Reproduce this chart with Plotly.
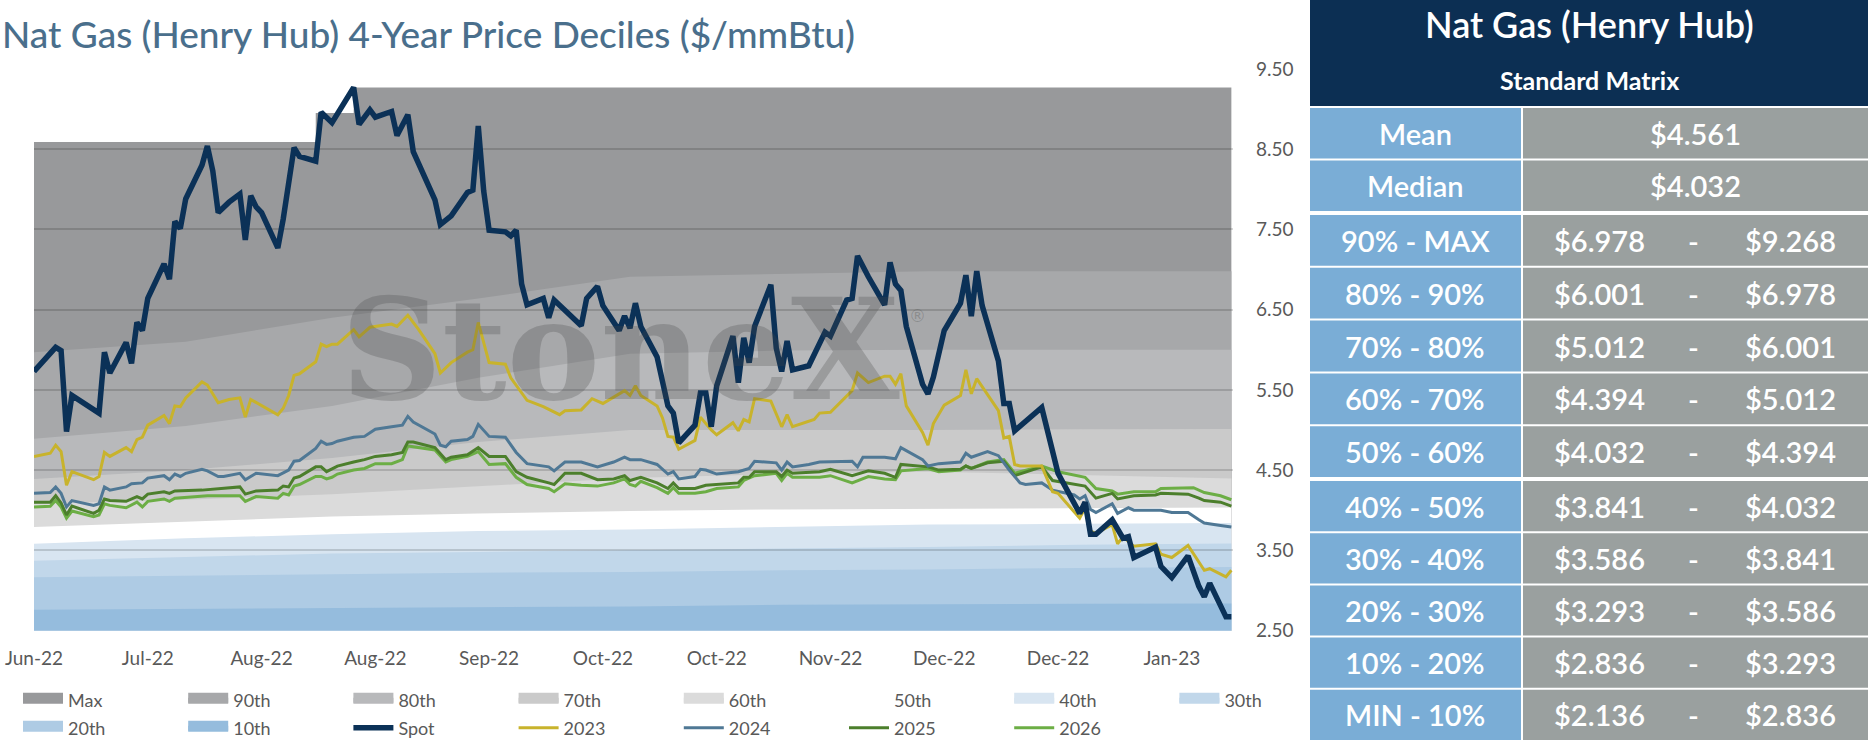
import pandas as pd
import plotly.graph_objects as go

# --- Canvas / layout constants ---
W, H = 1868, 740
FONT = "Lato"
START = pd.Timestamp("2022-06-20")  # first date on the chart (Jun-22 tick)

# plot area in pixels: left, right, top (9.50), bottom (2.50)
PX_L, PX_R, PX_T, PX_B = 34, 1233, 69, 630.5


def px_x(px):
    return px / W


def px_y(px):
    return 1 - px / H


def to_dates(days):
    return START + pd.to_timedelta(days, unit="D")


# --- Spot Henry Hub, day offsets from START and $/mmBtu ---
spot_day = [0, 4, 5, 6, 7, 12, 13, 14, 17, 18, 19, 20, 21, 24, 25, 26, 27, 28, 31, 32,
            33, 34, 36, 38, 39, 40, 41, 42, 45, 46, 48, 49, 52, 53, 55, 59, 60, 62, 63, 66,
            67, 69, 70, 74, 75, 77, 80, 81, 82, 83, 84, 87, 88, 89, 90, 91, 94, 95, 96, 101,
            102, 104, 105, 108, 109, 110, 111, 112, 115, 117, 118, 119, 122, 123, 124, 125, 126, 129, 130, 131,
            132, 133, 136, 137, 138, 139, 140, 143, 146, 147, 150, 151, 152, 154, 157, 158, 159, 160, 161, 164,
            165, 166, 168, 171, 172, 173, 174, 175, 178, 179, 180, 181, 186, 188, 189, 193, 194, 195, 196, 199,
            201, 202, 203, 207, 208, 210, 213, 215, 216, 217, 220, 221]
spot_val = [5.73, 6.03, 5.99, 4.98, 5.43, 5.21, 5.97, 5.71, 6.09, 5.83, 6.34, 6.24, 6.64, 7.07, 6.88, 7.60, 7.51, 7.88, 8.30, 8.54,
            8.23, 7.71, 7.84, 7.94, 7.37, 7.92, 7.78, 7.71, 7.27, 7.63, 8.52, 8.41, 8.35, 8.96, 8.83, 9.27, 8.81, 8.99, 8.90, 8.97,
            8.67, 8.93, 8.47, 7.87, 7.56, 7.67, 7.96, 7.99, 8.79, 7.98, 7.49, 7.47, 7.42, 7.49, 6.82, 6.56, 6.64, 6.40, 6.62, 6.30,
            6.64, 6.79, 6.55, 6.24, 6.42, 6.27, 6.58, 6.29, 5.91, 5.30, 5.21, 4.84, 5.06, 5.46, 5.46, 5.04, 5.55, 6.17, 5.59, 6.15,
            5.84, 6.29, 6.81, 6.02, 5.73, 6.11, 5.75, 5.80, 6.22, 6.17, 6.62, 6.64, 7.17, 6.91, 6.56, 7.09, 6.82, 6.74, 6.29, 5.57,
            5.45, 5.66, 6.24, 6.58, 6.93, 6.42, 6.98, 6.55, 5.86, 5.33, 5.33, 4.99, 5.28, 4.70, 4.46, 3.96, 4.10, 3.70, 3.70, 3.88,
            3.65, 3.67, 3.41, 3.54, 3.30, 3.16, 3.43, 3.05, 2.92, 3.09, 2.67, 2.67]

# --- Calendar strips ---
cal23_day = [0, 3, 4, 5, 6, 7, 11, 12, 13, 14, 17, 18, 19, 20, 21, 24, 25, 26, 27, 28,
             31, 32, 34, 36, 38, 39, 40, 45, 46, 47, 48, 49, 52, 53, 54, 55, 56, 59, 60, 62,
             66, 67, 69, 71, 74, 75, 77, 80, 81, 82, 84, 87, 88, 91, 94, 97, 98, 101, 103, 105,
             108, 109, 110, 111, 112, 115, 116, 117, 118, 119, 122, 123, 125, 126, 129, 130, 131, 132, 133, 136,
             138, 139, 140, 144, 145, 147, 151, 152, 154, 157, 158, 159, 160, 161, 164, 165, 166, 168, 171, 172,
             173, 174, 178, 179, 180, 181, 182, 186, 188, 189, 193, 194, 195, 196, 199, 200, 201, 203, 207, 208,
             210, 213, 216, 217, 220, 221]
cal23_val = [4.67, 4.71, 4.81, 4.73, 4.31, 4.48, 4.38, 4.42, 4.72, 4.67, 4.78, 4.73, 4.88, 4.91, 5.06, 5.18, 5.08, 5.30, 5.29, 5.40,
             5.60, 5.56, 5.34, 5.38, 5.40, 5.16, 5.38, 5.19, 5.27, 5.43, 5.68, 5.70, 5.85, 6.07, 6.04, 6.07, 6.07, 6.25, 6.16, 6.28,
             6.32, 6.29, 6.43, 6.25, 5.95, 5.71, 5.84, 5.97, 6.00, 6.34, 5.84, 5.82, 5.65, 5.37, 5.29, 5.19, 5.24, 5.25, 5.39, 5.33,
             5.45, 5.49, 5.43, 5.55, 5.43, 5.30, 5.15, 4.92, 4.91, 4.76, 4.87, 5.16, 5.00, 4.94, 5.09, 4.99, 5.13, 5.10, 5.39, 5.36,
             5.04, 5.19, 5.04, 5.13, 5.21, 5.22, 5.49, 5.71, 5.59, 5.67, 5.67, 5.57, 5.70, 5.30, 4.97, 4.81, 5.08, 5.31, 5.43, 5.75,
             5.45, 5.64, 5.24, 4.90, 4.92, 4.57, 4.55, 4.55, 4.23, 4.21, 3.90, 4.03, 3.74, 3.71, 3.82, 3.58, 3.67, 3.55, 3.58, 3.45,
             3.41, 3.56, 3.25, 3.27, 3.17, 3.25]

cal24_day = [0, 3, 4, 5, 6, 7, 11, 12, 13, 14, 17, 18, 20, 21, 24, 25, 26, 27, 28, 31,
             32, 34, 35, 38, 39, 41, 45, 47, 48, 49, 52, 53, 54, 55, 56, 59, 61, 63, 66, 68,
             69, 70, 74, 75, 76, 77, 80, 81, 82, 84, 87, 89, 91, 95, 96, 98, 101, 104, 107, 109,
             110, 112, 115, 117, 118, 119, 122, 123, 124, 126, 130, 132, 133, 137, 138, 139, 140, 143, 145, 151,
             152, 153, 157, 159, 160, 162, 164, 165, 167, 171, 172, 173, 176, 178, 180, 182, 183, 186, 188, 192,
             193, 194, 195, 196, 199, 200, 202, 203, 208, 210, 213, 215, 216, 219, 221]
cal24_val = [4.21, 4.22, 4.29, 4.21, 4.04, 4.12, 4.06, 4.08, 4.29, 4.25, 4.29, 4.33, 4.34, 4.40, 4.43, 4.38, 4.45, 4.42, 4.46, 4.51,
             4.49, 4.42, 4.42, 4.46, 4.38, 4.46, 4.43, 4.50, 4.61, 4.62, 4.77, 4.86, 4.82, 4.83, 4.86, 4.91, 4.92, 5.01, 5.04, 5.06,
             5.17, 5.10, 4.95, 4.81, 4.79, 4.86, 4.88, 4.92, 5.07, 4.92, 4.91, 4.72, 4.58, 4.54, 4.49, 4.60, 4.60, 4.54, 4.60, 4.66,
             4.63, 4.63, 4.57, 4.45, 4.48, 4.39, 4.42, 4.51, 4.50, 4.45, 4.48, 4.52, 4.61, 4.59, 4.50, 4.60, 4.54, 4.57, 4.60, 4.61,
             4.54, 4.66, 4.66, 4.64, 4.78, 4.70, 4.63, 4.55, 4.58, 4.60, 4.71, 4.66, 4.73, 4.68, 4.50, 4.34, 4.32, 4.34, 4.25, 4.19,
             4.14, 4.18, 4.01, 3.97, 4.08, 3.96, 4.03, 4.00, 4.00, 3.97, 3.97, 3.88, 3.84, 3.81, 3.79]

cal25_day = [0, 3, 4, 5, 6, 7, 11, 12, 13, 14, 17, 19, 20, 21, 24, 25, 26, 31, 38, 39,
             41, 45, 46, 47, 48, 49, 52, 53, 54, 55, 56, 59, 61, 63, 66, 68, 69, 70, 74, 76,
             77, 80, 82, 84, 87, 89, 91, 95, 96, 98, 101, 104, 107, 109, 110, 112, 115, 117, 118, 119,
             122, 124, 126, 130, 131, 132, 133, 137, 138, 139, 140, 145, 147, 151, 154, 157, 159, 160, 165, 167,
             171, 172, 173, 176, 179, 181, 186, 188, 194, 196, 199, 200, 203, 207, 208, 213, 215, 216, 219, 221]
cal25_val = [4.10, 4.10, 4.18, 4.09, 3.94, 4.05, 3.96, 4.00, 4.14, 4.12, 4.11, 4.17, 4.14, 4.20, 4.23, 4.21, 4.24, 4.25, 4.29, 4.20,
             4.24, 4.25, 4.30, 4.29, 4.40, 4.42, 4.54, 4.54, 4.48, 4.52, 4.55, 4.60, 4.63, 4.67, 4.69, 4.72, 4.85, 4.85, 4.78, 4.63,
             4.66, 4.69, 4.78, 4.67, 4.67, 4.48, 4.41, 4.34, 4.32, 4.46, 4.46, 4.38, 4.39, 4.43, 4.37, 4.41, 4.34, 4.27, 4.34, 4.27,
             4.27, 4.31, 4.32, 4.34, 4.41, 4.41, 4.48, 4.48, 4.42, 4.50, 4.46, 4.48, 4.51, 4.43, 4.49, 4.46, 4.41, 4.57, 4.54, 4.50,
             4.51, 4.55, 4.52, 4.59, 4.61, 4.43, 4.54, 4.37, 4.30, 4.15, 4.21, 4.14, 4.18, 4.19, 4.21, 4.20, 4.15, 4.12, 4.10, 4.05]

cal26_day = [0, 3, 4, 5, 6, 7, 11, 12, 13, 14, 17, 19, 20, 21, 24, 25, 26, 31, 32, 38,
             39, 41, 45, 46, 47, 48, 49, 52, 53, 54, 55, 56, 59, 61, 63, 66, 68, 69, 74, 76,
             77, 80, 82, 84, 87, 89, 91, 95, 96, 98, 101, 104, 107, 109, 110, 111, 112, 115, 117, 118,
             119, 122, 124, 126, 130, 131, 133, 137, 138, 139, 140, 145, 147, 151, 154, 157, 159, 160, 165, 167,
             171, 172, 173, 176, 179, 181, 186, 189, 194, 196, 199, 200, 203, 207, 208, 214, 216, 219, 221]
cal26_val = [4.04, 4.05, 4.12, 4.04, 3.90, 3.99, 3.92, 3.94, 4.08, 4.06, 4.03, 4.10, 4.04, 4.11, 4.14, 4.11, 4.15, 4.17, 4.18, 4.18,
             4.11, 4.17, 4.15, 4.21, 4.19, 4.30, 4.32, 4.42, 4.42, 4.39, 4.41, 4.45, 4.50, 4.52, 4.58, 4.58, 4.63, 4.80, 4.75, 4.60,
             4.63, 4.67, 4.73, 4.57, 4.58, 4.41, 4.32, 4.27, 4.23, 4.33, 4.31, 4.30, 4.34, 4.39, 4.32, 4.30, 4.36, 4.28, 4.21, 4.28,
             4.21, 4.21, 4.23, 4.27, 4.29, 4.37, 4.43, 4.46, 4.37, 4.46, 4.41, 4.41, 4.43, 4.34, 4.42, 4.39, 4.38, 4.49, 4.52, 4.48,
             4.50, 4.55, 4.52, 4.60, 4.63, 4.46, 4.55, 4.48, 4.41, 4.27, 4.24, 4.20, 4.23, 4.23, 4.27, 4.28, 4.22, 4.18, 4.13]

# --- 4-year decile bands ---
max_day = [0, 52, 59, 221]
max_val = [8.59, 8.95, 9.27, 9.268]
band_day = [0, 28, 55, 82, 110, 138, 165, 193, 221]
p90 = [5.97, 6.10, 6.40, 6.64, 6.91, 6.95, 6.98, 6.98, 6.978]
p80 = [4.89, 5.05, 5.30, 5.65, 5.95, 5.99, 6.00, 6.00, 6.001]
p70 = [4.39, 4.50, 4.65, 4.85, 5.00, 5.00, 5.00, 5.01, 5.012]
p60 = [4.08, 4.13, 4.20, 4.30, 4.40, 4.45, 4.48, 4.44, 4.394]
p50 = [3.79, 3.86, 3.92, 3.96, 3.99, 4.01, 4.02, 4.03, 4.032]
p40 = [3.58, 3.65, 3.70, 3.74, 3.76, 3.79, 3.82, 3.83, 3.841]
p30 = [3.37, 3.42, 3.46, 3.48, 3.50, 3.52, 3.54, 3.57, 3.586]
p20 = [3.165, 3.18, 3.20, 3.22, 3.23, 3.25, 3.26, 3.28, 3.293]
p10 = [2.76, 2.77, 2.78, 2.79, 2.80, 2.82, 2.83, 2.835, 2.836]

# --- Standard matrix table ---
mean_val = 4.561
median_val = 4.032
range_labels = ["90% - MAX", "80% - 90%", "70% - 80%", "60% - 70%", "50% - 60%",
                "40% - 50%", "30% - 40%", "20% - 30%", "10% - 20%", "MIN - 10%"]
range_low = [6.978, 6.001, 5.012, 4.394, 4.032, 3.841, 3.586, 3.293, 2.836, 2.136]
range_high = [9.268, 6.978, 6.001, 5.012, 4.394, 4.032, 3.841, 3.586, 3.293, 2.836]

# --- Colours ---
NAVY = "#0c2f53"
CELL_BLUE = "#7aadd6"
CELL_GRAY = "#9aa09f"
TITLE_C = "#4a6f8c"
TEXT_C = "#595959"
GRID_C = "rgba(0,0,0,0.15)"

bands = [
    ("Max", max_day, max_val, "#98999b"),
    ("90th", band_day, p90, "#a7a8aa"),
    ("80th", band_day, p80, "#b8b9bb"),
    ("70th", band_day, p70, "#cacaca"),
    ("60th", band_day, p60, "#dbdbdb"),
    ("50th", band_day, p50, "#ffffff"),
    ("40th", band_day, p40, "#d8e5f1"),
    ("30th", band_day, p30, "#c1d7ea"),
    ("20th", band_day, p20, "#aecbe4"),
    ("10th", band_day, p10, "#95bcdd"),
]

lines = [  # (name, days, values, colour, width, legend slot)
    ("2026", cal26_day, cal26_val, "#6cae45", 3, 14),
    ("2025", cal25_day, cal25_val, "#4c7f2c", 3, 13),
    ("2024", cal24_day, cal24_val, "#4f7895", 3, 12),
    ("2023", cal23_day, cal23_val, "#c8b32c", 3, 11),
    ("Spot", spot_day, spot_val, "#0b3157", 5.5, 10),
]


def legend_key(slot):
    return "legend" if slot == 0 else f"legend{slot + 1}"


fig = go.Figure()

# bands: filled to zero, drawn largest first, on the lower subplot
for name, days, vals, color in bands:
    fig.add_trace(go.Scatter(
        x=to_dates(days), y=vals, name=name,
        mode="lines", fill="tozeroy", fillcolor=color,
        line=dict(width=0, color=color, shape="hv" if name == "Max" else "linear"),
        xaxis="x", yaxis="y", hoverinfo="skip", showlegend=False,
    ))
# legend swatches for the bands (no data, only the key)
for i, (name, days, vals, color) in enumerate(bands):
    fig.add_trace(go.Scatter(
        x=[None], y=[None], name=name, mode="lines", fill="tozeroy", fillcolor=color,
        line=dict(width=10, color=color), xaxis="x", yaxis="y", legend=legend_key(i),
    ))

# price lines on the upper subplot so its gridlines sit above the bands
for name, days, vals, color, width, slot in lines:
    fig.add_trace(go.Scatter(
        x=to_dates(days), y=vals, name=name, mode="lines",
        line=dict(color=color, width=width),
        xaxis="x2", yaxis="y2", legend=legend_key(slot),
    ))

x_dom = [px_x(PX_L), px_x(PX_R)]
y_dom = [px_y(PX_B), px_y(PX_T)]
x_rng = [START, START + pd.Timedelta(days=221.3)]
y_rng = [2.5, 9.5]

# --- Legend: one key per slot, 8 per row ---
legends = {}
for slot in range(15):
    row, col = divmod(slot, 8)
    legends[legend_key(slot)] = dict(
        orientation="h", xanchor="left", yanchor="middle",
        x=px_x(18 + 165.2 * col), y=px_y(700 + 28 * row),
        itemwidth=40, font=dict(family=FONT, size=18, color=TEXT_C),
        bgcolor="rgba(0,0,0,0)", itemclick=False, itemdoubleclick=False,
    )

# --- Table on the right (drawn as cells in paper space) ---
TX0, TX_SPLIT = 1310, 1522
shapes = [dict(type="rect", xref="paper", yref="paper", layer="above",
               x0=px_x(TX0), x1=1, y0=px_y(106), y1=1, fillcolor=NAVY, line=dict(width=0))]
annotations = [
    dict(text="Nat Gas (Henry Hub)", x=px_x(1589), y=px_y(24),
         font=dict(family=FONT, size=36, color="white", weight=600)),
    dict(text="Standard Matrix", x=px_x(1589), y=px_y(80),
         font=dict(family=FONT, size=25, color="white", weight=700)),
]
cell_font = dict(family=FONT, size=29, color="white", weight=600)

row_labels = ["Mean", "Median"] + range_labels
groups = [(0, 2, 108, 213), (2, 7, 215, 479), (7, 12, 481, 742)]  # rows, pixel top/bottom
for r0, r1, top, bot in groups:
    h = (bot - top) / (r1 - r0)
    for k, r in enumerate(range(r0, r1)):
        y0, y1 = top + k * h, top + (k + 1) * h - 2
        yc = (y0 + y1) / 2
        shapes.append(dict(type="rect", xref="paper", yref="paper", layer="above",
                           x0=px_x(TX0), x1=px_x(TX_SPLIT - 1), y0=px_y(y1), y1=px_y(y0),
                           fillcolor=CELL_BLUE, line=dict(width=0)))
        shapes.append(dict(type="rect", xref="paper", yref="paper", layer="above",
                           x0=px_x(TX_SPLIT + 1), x1=1, y0=px_y(y1), y1=px_y(y0),
                           fillcolor=CELL_GRAY, line=dict(width=0)))
        annotations.append(dict(text=row_labels[r], x=px_x(1415), y=px_y(yc), font=cell_font))
        if r < 2:
            v = mean_val if r == 0 else median_val
            annotations.append(dict(text=f"${v:.3f}", x=px_x(1695), y=px_y(yc), font=cell_font))
        else:
            j = r - 2
            annotations += [
                dict(text=f"${range_low[j]:.3f}", x=px_x(1599), y=px_y(yc), font=cell_font),
                dict(text="-", x=px_x(1693), y=px_y(yc), font=cell_font),
                dict(text=f"${range_high[j]:.3f}", x=px_x(1790), y=px_y(yc), font=cell_font),
            ]
for a in annotations:
    a.update(xref="paper", yref="paper", xanchor="center", yanchor="middle", showarrow=False)

annotations += [
    dict(text="Nat Gas (Henry Hub) 4-Year Price Deciles ($/mmBtu)", xref="paper", yref="paper",
         x=0, y=px_y(34), xanchor="left", yanchor="middle", showarrow=False,
         font=dict(family=FONT, size=37, color=TITLE_C, weight=500)),
    dict(text="StoneX", xref="paper", yref="paper", x=px_x(620), y=px_y(350),
         xanchor="center", yanchor="middle", showarrow=False,
         font=dict(family="DejaVu Serif", size=140, color="rgba(70,70,70,0.26)", weight="bold")),
    dict(text="®", xref="paper", yref="paper", x=px_x(917), y=px_y(316),
         xanchor="center", yanchor="middle", showarrow=False,
         font=dict(family="DejaVu Sans", size=17, color="rgba(70,70,70,0.28)")),
]

fig.update_layout(
    width=W, height=H, autosize=False,
    margin=dict(l=0, r=0, t=0, b=0, autoexpand=False),
    paper_bgcolor="white", plot_bgcolor="rgba(0,0,0,0)",
    font=dict(family=FONT, color=TEXT_C),
    showlegend=True,
    xaxis=dict(domain=x_dom, range=x_rng, type="date", visible=False, anchor="y", automargin=False),
    yaxis=dict(domain=y_dom, range=y_rng, visible=False, anchor="x", automargin=False),
    xaxis2=dict(domain=x_dom, range=x_rng, type="date", anchor="y2", automargin=False,
                tick0=START, dtick=21 * 86400000, tickformat="%b-%y",
                showgrid=False, zeroline=False, showline=False, ticks="",
                tickfont=dict(size=19, color=TEXT_C), ticklabelstandoff=14),
    yaxis2=dict(domain=y_dom, range=y_rng, anchor="x2", side="right", automargin=False,
                tick0=2.5, dtick=1, tickformat=".2f",
                showgrid=True, gridcolor=GRID_C, gridwidth=2,
                zeroline=False, showline=False, ticks="",
                tickfont=dict(size=19, color=TEXT_C), ticklabelstandoff=22),
    shapes=shapes,
    annotations=annotations,
    **legends,
)

# the page body has a default 8px margin; drop it so the chart fills the window
fig.write_html("out.html", config={"displayModeBar": False},
               post_script="document.body.style.margin = '0';")
